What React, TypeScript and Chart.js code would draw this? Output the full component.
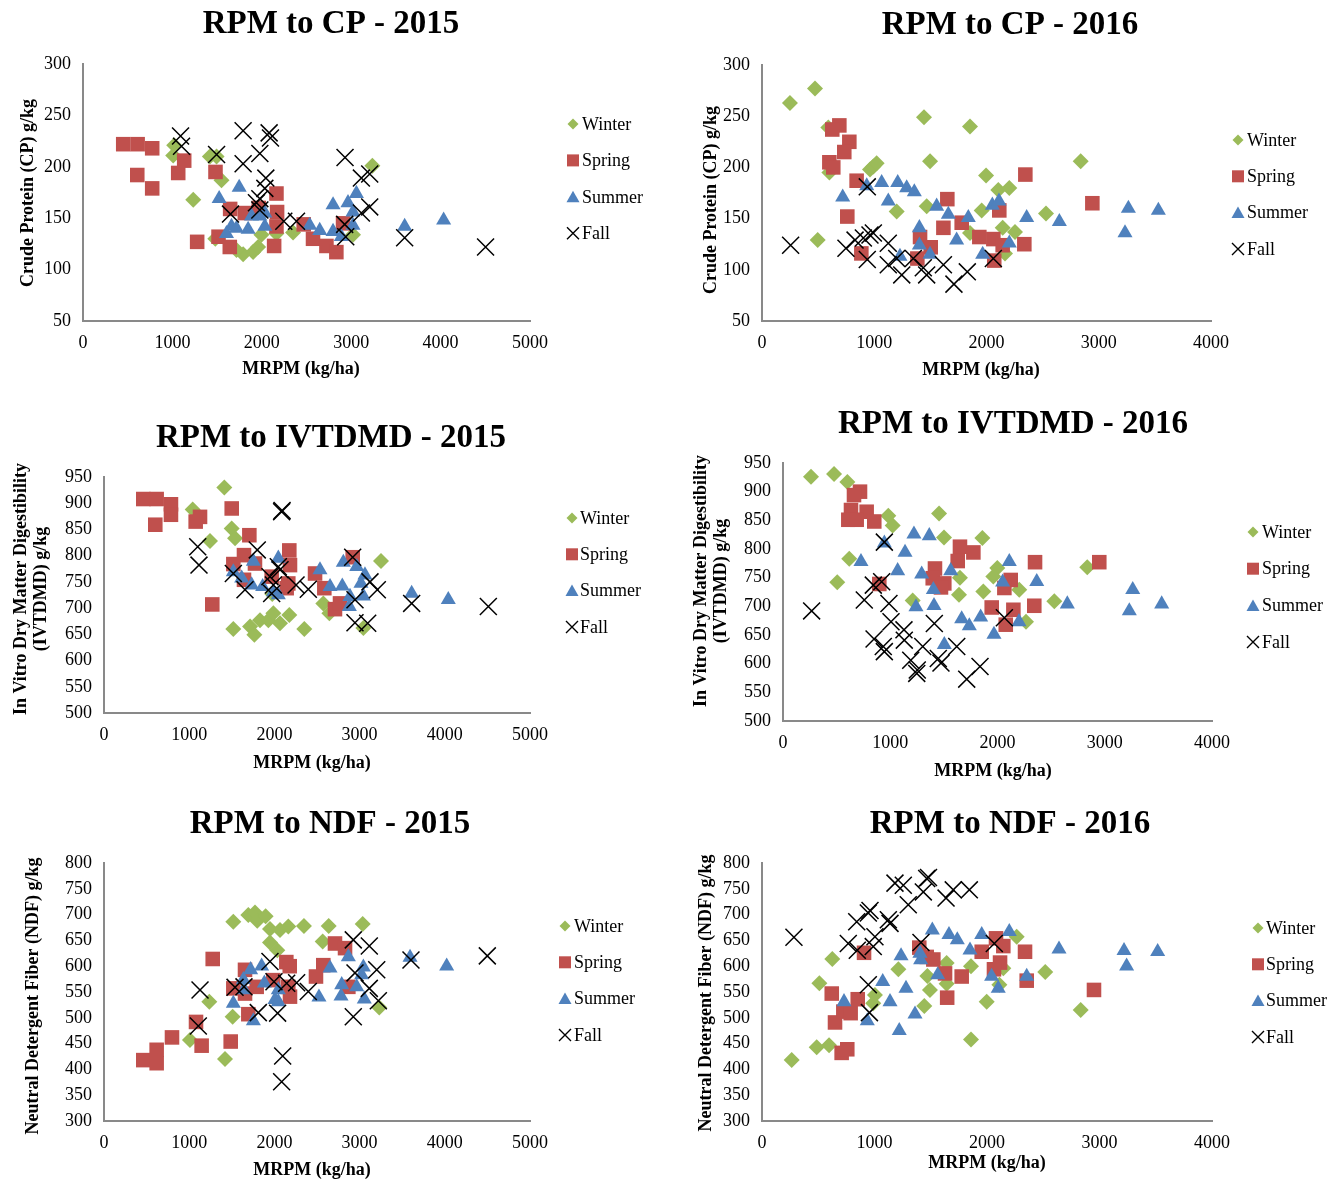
import React, { useEffect, useRef } from 'react';
import { Chart, registerables } from 'chart.js';

Chart.register(...registerables);

type Pt = [number, number];

const FONT = "'Liberation Serif', 'Times New Roman', serif";

// ---------- Series names ----------
const seasons = ['Winter', 'Spring', 'Summer', 'Fall'];

// ---------- Axis ticks ----------
const xTicks2015 = [0, 1000, 2000, 3000, 4000, 5000];
const xTicks2016 = [0, 1000, 2000, 3000, 4000];
const cpTicks = [50, 100, 150, 200, 250, 300];
const ivtdmdTicks = [500, 550, 600, 650, 700, 750, 800, 850, 900, 950];
const ndfTicks = [300, 350, 400, 450, 500, 550, 600, 650, 700, 750, 800];

// ---------- RPM to CP - 2015 ----------
const cp2015Winter: Pt[] = [[1020,221],[1009,211],[1419,210],[1494,210],[1549,187],[1233,168],[1791,115],[1717,119],[1903,117],[1959,122],[1996,134],[2164,135],[2350,136],[3020,134],[3237,201],[1480,130]];
const cp2015Spring: Pt[] = [[450,222],[611,222],[774,218],[607,192],[774,179],[1132,206],[1065,194],[1482,195],[1277,127],[1516,132],[1646,159],[1642,122],[1810,155],[1966,160],[2164,174],[2171,156],[2164,142],[2138,123],[2469,144],[2573,130],[2723,123],[2834,117],[2909,145]];
const cp2015Summer: Pt[] = [[1747,180],[1523,169],[1661,142],[1605,135],[1847,139],[1717,140],[1885,152],[1978,152],[2034,155],[2034,142],[2536,143],[2648,138],[2797,137],[2797,163],[2964,165],[3058,174],[3020,156],[3020,143],[2890,132],[3598,142],[4034,148]];
const cp2015Fall: Pt[] = [[1091,230],[1102,220],[1791,235],[2082,233],[2097,228],[1494,212],[1791,203],[1978,213],[2045,189],[2034,179],[1978,169],[1940,165],[1650,154],[1978,158],[2246,147],[2388,147],[2931,209],[3114,189],[3207,193],[3114,155],[3207,161],[2927,144],[2939,132],[3598,131],[4503,122]];

// ---------- RPM to CP - 2016 ----------
const cp2016Winter: Pt[] = [[249,263],[472,277],[591,239],[962,198],[992,201],[1021,204],[1443,249],[1853,240],[1497,206],[1996,192],[2105,178],[2203,180],[2839,206],[1200,157],[1467,162],[1957,158],[2144,141],[2254,137],[1853,136],[2530,155],[2165,116],[496,129],[600,195]];
const cp2016Spring: Pt[] = [[689,241],[626,237],[778,225],[733,215],[600,205],[635,200],[843,187],[760,152],[885,116],[1651,169],[1616,141],[1779,146],[1408,132],[1503,122],[1384,111],[1936,132],[2061,130],[2114,158],[2144,124],[2069,109],[2337,125],[2346,193],[2943,165]];
const cp2016Summer: Pt[] = [[719,171],[933,182],[1066,185],[1209,185],[1289,180],[1357,176],[1125,167],[1556,162],[1660,154],[1838,151],[2052,163],[2111,167],[2358,151],[2649,147],[3264,160],[3531,158],[3234,136],[1402,141],[1402,124],[1734,129],[1229,113],[1497,115],[1966,115],[2203,126]];
const cp2016Fall: Pt[] = [[255,124],[938,181],[748,121],[829,129],[903,131],[962,134],[992,136],[1125,126],[938,110],[1125,105],[1200,111],[1245,95],[1348,111],[1437,102],[1467,95],[1616,105],[1829,98],[1710,86],[2061,111]];

// ---------- RPM to IVTDMD - 2015 ----------
const iv2015Winter: Pt[] = [[1412,930],[1041,888],[1499,852],[1538,833],[1244,828],[3251,790],[1975,727],[1518,660],[1714,665],[1765,649],[1831,677],[1929,677],[1988,690],[2066,671],[2175,687],[2351,660],[2574,709],[2645,690],[3044,662]];
const iv2015Spring: Pt[] = [[461,908],[618,908],[786,898],[786,878],[602,859],[1127,874],[1076,865],[1499,890],[1706,839],[1643,801],[1518,784],[2175,810],[2183,782],[1772,785],[1968,760],[1643,754],[2163,747],[2144,738],[2477,766],[2586,738],[2919,797],[1271,707],[2711,698],[2770,709]];
const iv2015Summer: Pt[] = [[1753,789],[2046,795],[1518,769],[1616,757],[1733,744],[1862,741],[1988,731],[2046,725],[2535,773],[2653,741],[2797,742],[2809,787],[2966,779],[3063,763],[3016,747],[3044,723],[2887,722],[2880,703],[3611,728],[4041,716]];
const iv2015Fall: Pt[] = [[2085,884],[2090,886],[1100,817],[1115,782],[1799,811],[1518,766],[1655,735],[2046,779],[2066,773],[1948,760],[1988,744],[1968,728],[2254,744],[2398,736],[2919,797],[3122,750],[3208,735],[2946,716],[2946,672],[3095,671],[3611,709],[4511,703]];

// ---------- RPM to IVTDMD - 2016 ----------
const iv2016Winter: Pt[] = [[261,926],[476,931],[600,917],[982,858],[1023,841],[1455,862],[1501,820],[1859,819],[618,783],[506,742],[1209,710],[1650,750],[1641,720],[1868,726],[1998,767],[1961,752],[2203,729],[2266,673],[2837,768],[2530,709]];
const iv2016Spring: Pt[] = [[718,900],[662,894],[634,868],[609,851],[780,865],[851,848],[687,851],[1650,804],[1775,794],[1629,779],[1417,766],[1396,749],[1504,740],[1473,733],[2350,777],[2949,777],[2123,746],[2064,732],[1946,698],[2148,694],[2343,701],[2077,668],[898,739]];
const iv2016Summer: Pt[] = [[1221,826],[1364,823],[945,810],[1138,794],[727,778],[1069,762],[1293,756],[1564,762],[2110,778],[2366,743],[2048,742],[1402,729],[1240,699],[1408,701],[1666,678],[1737,666],[1843,681],[2200,673],[1967,651],[1504,633],[2651,704],[3261,729],[3229,692],[3531,704]];
const iv2016Fall: Pt[] = [[267,692],[945,812],[842,737],[920,743],[758,711],[988,705],[1007,673],[1128,659],[1131,641],[849,643],[935,630],[945,621],[1411,670],[1303,630],[1191,606],[1247,583],[1252,589],[1448,609],[1473,601],[1620,630],[1837,595],[1713,573],[2064,680]];

// ---------- RPM to NDF - 2015 ----------
const ndf2015Winter: Pt[] = [[1518,686],[1694,699],[1772,704],[1799,688],[1897,697],[1948,672],[2066,670],[2163,677],[2347,678],[2637,678],[3036,682],[1948,646],[2567,648],[2034,631],[1236,531],[1510,502],[1009,457],[1420,420],[3231,520]];
const ndf2015Spring: Pt[] = [[461,418],[618,438],[618,412],[798,462],[1080,492],[1146,446],[1487,454],[1276,614],[1655,593],[1518,557],[1655,547],[1792,560],[1987,573],[2140,608],[2180,600],[2183,541],[2163,560],[1694,507],[2488,580],[2574,602],[2711,644],[2829,635],[2868,560]];
const ndf2015Summer: Pt[] = [[1721,593],[1850,600],[1636,574],[1518,528],[1643,554],[1882,567],[2046,554],[2007,535],[2046,531],[1753,494],[2653,596],[2868,618],[2790,564],[2782,542],[3044,598],[3024,583],[2966,560],[3055,536],[2523,540],[3592,617],[4022,600]];
const ndf2015Fall: Pt[] = [[1127,554],[1107,484],[1538,559],[1643,560],[1948,609],[1995,570],[2144,567],[2261,568],[2398,551],[1811,510],[2038,509],[2097,426],[2085,376],[2926,651],[3114,639],[3201,593],[2946,587],[3114,557],[3220,533],[2926,502],[3603,612],[4499,620]];

// ---------- RPM to NDF - 2016 ----------
const ndf2016Winter: Pt[] = [[264,418],[486,443],[596,447],[510,567],[625,614],[1004,544],[989,528],[1212,594],[1443,523],[1493,554],[1470,581],[1641,606],[1641,566],[1858,600],[1997,531],[2110,564],[2145,596],[2264,657],[2518,589],[2833,515],[1858,458]];
const ndf2016Spring: Pt[] = [[907,626],[620,547],[649,491],[723,512],[788,509],[851,536],[708,432],[758,439],[1398,636],[1464,618],[1523,613],[1627,586],[1775,580],[1646,539],[1953,628],[2080,654],[2145,639],[2116,607],[2062,594],[2338,628],[2353,572],[2951,554]];
const ndf2016Summer: Pt[] = [[1514,670],[1662,661],[1736,651],[1953,661],[2198,667],[1849,631],[1236,620],[1404,625],[1410,612],[1562,583],[2041,580],[2100,557],[2353,580],[2640,633],[3218,630],[3241,600],[3517,628],[1073,570],[1280,557],[1138,531],[729,531],[936,494],[1360,507],[1220,475]];
const ndf2016Fall: Pt[] = [[284,656],[1182,761],[1256,757],[1464,770],[1480,772],[1434,744],[1636,732],[1700,748],[1843,748],[1300,719],[842,686],[945,703],[960,708],[1123,690],[1138,683],[1004,657],[767,644],[847,631],[989,638],[1413,646],[2065,644],[945,564],[955,510]];

// ---------- Panel layout (page coordinates) ----------
interface Spec {
  title: string;
  yTitle: string[];
  xTicks: number[];
  yTicks: number[];
  series: Pt[][];
  area: { l: number; r: number; t: number; b: number };
  titleAt: [number, number];
  xTitleAt: [number, number];
  yTitleAt: [number, number];
  legend: { mx: number; tx: number; y0: number; pitch: number };
}

const W = 1338;
const H = 1179;
const Y_AXIS_W = 60;
const X_AXIS_H = 40;

const specs: Spec[] = [
  {
    title: 'RPM to CP - 2015', yTitle: ['Crude Protein (CP) g/kg'],
    xTicks: xTicks2015, yTicks: cpTicks,
    series: [cp2015Winter, cp2015Spring, cp2015Summer, cp2015Fall],
    area: { l: 83, r: 530, t: 64, b: 321 },
    titleAt: [331, 33], xTitleAt: [301, 374], yTitleAt: [33, 193],
    legend: { mx: 573, tx: 582, y0: 124, pitch: 36.4 },
  },
  {
    title: 'RPM to CP - 2016', yTitle: ['Crude Protein (CP) g/kg'],
    xTicks: xTicks2016, yTicks: cpTicks,
    series: [cp2016Winter, cp2016Spring, cp2016Summer, cp2016Fall],
    area: { l: 762, r: 1211, t: 65, b: 321 },
    titleAt: [1010, 34], xTitleAt: [981, 375], yTitleAt: [716, 200],
    legend: { mx: 1238, tx: 1247, y0: 140, pitch: 36.3 },
  },
  {
    title: 'RPM to IVTDMD - 2015', yTitle: ['In Vitro Dry Matter Digestibility', '(IVTDMD) g/kg'],
    xTicks: xTicks2015, yTicks: ivtdmdTicks,
    series: [iv2015Winter, iv2015Spring, iv2015Summer, iv2015Fall],
    area: { l: 104, r: 530, t: 477, b: 713 },
    titleAt: [331, 447], xTitleAt: [312, 768], yTitleAt: [26, 589],
    legend: { mx: 572, tx: 580, y0: 518, pitch: 36.3 },
  },
  {
    title: 'RPM to IVTDMD - 2016', yTitle: ['In Vitro Dry Matter Digestibility', '(IVTDMD) g/kg'],
    xTicks: xTicks2016, yTicks: ivtdmdTicks,
    series: [iv2016Winter, iv2016Spring, iv2016Summer, iv2016Fall],
    area: { l: 783, r: 1212, t: 463, b: 721 },
    titleAt: [1013, 433], xTitleAt: [993, 776], yTitleAt: [706, 581],
    legend: { mx: 1253, tx: 1262, y0: 532, pitch: 36.7 },
  },
  {
    title: 'RPM to NDF - 2015', yTitle: ['Neutral Detergent Fiber (NDF) g/kg'],
    xTicks: xTicks2015, yTicks: ndfTicks,
    series: [ndf2015Winter, ndf2015Spring, ndf2015Summer, ndf2015Fall],
    area: { l: 104, r: 530, t: 863, b: 1121 },
    titleAt: [330, 833], xTitleAt: [312, 1175], yTitleAt: [38, 996],
    legend: { mx: 565, tx: 574, y0: 926, pitch: 36.3 },
  },
  {
    title: 'RPM to NDF - 2016', yTitle: ['Neutral Detergent Fiber (NDF) g/kg'],
    xTicks: xTicks2016, yTicks: ndfTicks,
    series: [ndf2016Winter, ndf2016Spring, ndf2016Summer, ndf2016Fall],
    area: { l: 762, r: 1212, t: 863, b: 1121 },
    titleAt: [1010, 833], xTitleAt: [987, 1168], yTitleAt: [711, 993],
    legend: { mx: 1258, tx: 1266, y0: 928, pitch: 36.3 },
  },
];

const seasonStyle = [
  { pointStyle: 'rectRot', color: '#9BBB59', radius: 8, borderWidth: 0, order: 4 },
  { pointStyle: 'rect', color: '#C0504D', radius: 10.3, borderWidth: 0, order: 3 },
  { pointStyle: 'triangle', color: '#4F81BD', radius: 8.7, borderWidth: 0, order: 2 },
  { pointStyle: 'crossRot', color: '#000000', radius: 12, borderWidth: 1.5, order: 1 },
];

function drawLegendMarker(ctx: CanvasRenderingContext2D, i: number, x: number, y: number) {
  ctx.save();
  if (i === 0) {
    ctx.fillStyle = '#9BBB59';
    ctx.beginPath();
    ctx.moveTo(x, y - 5.5); ctx.lineTo(x + 5.5, y); ctx.lineTo(x, y + 5.5); ctx.lineTo(x - 5.5, y);
    ctx.closePath(); ctx.fill();
  } else if (i === 1) {
    ctx.fillStyle = '#C0504D';
    ctx.fillRect(x - 6, y - 6, 12, 12);
  } else if (i === 2) {
    ctx.fillStyle = '#4F81BD';
    ctx.beginPath();
    ctx.moveTo(x, y - 6); ctx.lineTo(x + 6.5, y + 5.5); ctx.lineTo(x - 6.5, y + 5.5);
    ctx.closePath(); ctx.fill();
  } else {
    ctx.strokeStyle = '#000';
    ctx.lineWidth = 1.4;
    ctx.beginPath();
    ctx.moveTo(x - 6, y - 6); ctx.lineTo(x + 6, y + 6);
    ctx.moveTo(x + 6, y - 6); ctx.lineTo(x - 6, y + 6);
    ctx.stroke();
  }
  ctx.restore();
}

function makeDecor(spec: Spec) {
  return {
    id: 'decor',
    afterDraw(chart: any) {
      const ctx: CanvasRenderingContext2D = chart.ctx;
      ctx.save();
      ctx.fillStyle = '#000';
      ctx.textBaseline = 'alphabetic';
      ctx.textAlign = 'center';
      ctx.font = `bold 33px ${FONT}`;
      ctx.fillText(spec.title, spec.titleAt[0], spec.titleAt[1]);
      ctx.font = `bold 18px ${FONT}`;
      ctx.fillText('MRPM (kg/ha)', spec.xTitleAt[0], spec.xTitleAt[1]);
      spec.yTitle.forEach((line, i) => {
        ctx.save();
        ctx.translate(spec.yTitleAt[0] + i * 20, spec.yTitleAt[1]);
        ctx.rotate(-Math.PI / 2);
        ctx.fillText(line, 0, 0);
        ctx.restore();
      });
      ctx.font = `18px ${FONT}`;
      ctx.textAlign = 'left';
      ctx.textBaseline = 'middle';
      seasons.forEach((name, i) => {
        const y = spec.legend.y0 + i * spec.legend.pitch;
        drawLegendMarker(ctx, i, spec.legend.mx, y);
        ctx.fillStyle = '#000';
        ctx.fillText(name, spec.legend.tx, y + 1);
      });
      ctx.restore();
    },
  };
}

function Panel({ spec }: { spec: Spec }) {
  const ref = useRef<HTMLCanvasElement | null>(null);
  useEffect(() => {
    if (!ref.current) return;
    const xs = spec.xTicks;
    const ys = spec.yTicks;
    const datasets = spec.series.map((pts, i) => {
      const st = seasonStyle[i];
      return {
        label: seasons[i],
        data: pts.map(([x, y]) => ({ x, y })),
        pointStyle: st.pointStyle,
        pointRadius: st.radius,
        pointHoverRadius: st.radius,
        pointBackgroundColor: st.color,
        pointBorderColor: st.color,
        pointBorderWidth: st.borderWidth,
        backgroundColor: st.color,
        borderColor: st.color,
        showLine: false,
        order: st.order,
      };
    });
    const tickFont = { family: FONT, size: 18 };
    const plain = (v: any) => String(v);
    const chart = new Chart(ref.current, {
      type: 'scatter',
      data: { datasets } as any,
      options: {
        responsive: false,
        animation: false,
        devicePixelRatio: 1,
        events: [],
        layout: {
          padding: {
            left: spec.area.l - Y_AXIS_W,
            right: W - spec.area.r,
            top: spec.area.t,
            bottom: H - spec.area.b - X_AXIS_H,
          },
        },
        plugins: {
          legend: { display: false },
          title: { display: false },
          tooltip: { enabled: false },
        },
        scales: {
          x: {
            type: 'linear',
            min: xs[0],
            max: xs[xs.length - 1],
            afterFit: (s: any) => { s.height = X_AXIS_H; },
            afterBuildTicks: (s: any) => { s.ticks = xs.map((v) => ({ value: v })); },
            ticks: { font: tickFont, color: '#000', padding: 11, maxRotation: 0, autoSkip: false, callback: plain },
            grid: { display: false, drawTicks: false },
            border: { display: true, color: '#898989', width: 2 },
          },
          y: {
            type: 'linear',
            min: ys[0],
            max: ys[ys.length - 1],
            afterFit: (s: any) => { s.width = Y_AXIS_W; },
            afterBuildTicks: (s: any) => { s.ticks = ys.map((v) => ({ value: v })); },
            ticks: { font: tickFont, color: '#000', padding: 12, autoSkip: false, callback: plain },
            grid: { display: false, drawTicks: false },
            border: { display: true, color: '#898989', width: 2 },
          },
        },
      } as any,
      plugins: [makeDecor(spec)],
    });
    return () => chart.destroy();
  }, [spec]);
  return (
    <canvas
      ref={ref}
      width={W}
      height={H}
      style={{ position: 'absolute', left: 0, top: 0, width: W, height: H, display: 'block' }}
    />
  );
}

export default function App() {
  return (
    <div style={{ position: 'absolute', left: 0, top: 0, width: W, height: H, overflow: 'hidden', background: '#fff' }}>
      {specs.map((s, i) => (
        <Panel key={i} spec={s} />
      ))}
    </div>
  );
}
